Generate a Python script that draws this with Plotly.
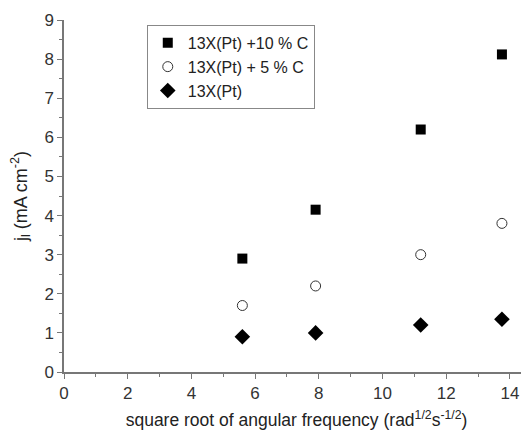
import plotly.graph_objects as go

x_vals = [5.6, 7.9, 11.2, 13.75]
c10_vals = [2.9, 4.15, 6.2, 8.12]
c5_vals = [1.7, 2.2, 3.0, 3.8]
pt_vals = [0.9, 1.0, 1.2, 1.35]
names = ["13X(Pt) +10 % C", "13X(Pt) + 5 % C", "13X(Pt)"]

FONT = "Liberation Sans, Arial"

fig = go.Figure()
fig.add_trace(go.Scatter(x=x_vals, y=c10_vals, mode="markers", name=names[0],
                         marker=dict(symbol="square", size=10, color="black")))
fig.add_trace(go.Scatter(x=x_vals, y=c5_vals, mode="markers", name=names[1],
                         marker=dict(symbol="circle-open", size=10, color="#333", line=dict(width=1))))
fig.add_trace(go.Scatter(x=x_vals, y=pt_vals, mode="markers", name=names[2],
                         marker=dict(symbol="diamond", size=12, color="black")))

axis_common = dict(showline=True, linecolor="#777", linewidth=1.5, ticks="outside",
                   tickcolor="#777", ticklen=5, showgrid=False, zeroline=False, automargin=False,
                   tickfont=dict(family=FONT, size=17, color="#333"))
fig.update_layout(
    width=521, height=428,
    margin=dict(l=56, r=0, t=12, b=64),
    plot_bgcolor="white", paper_bgcolor="white",
    xaxis=dict(range=[0, 14.6], dtick=2, minor=dict(dtick=1, ticks="outside", ticklen=3, tickcolor="#777"),
               title=dict(text="square root of angular frequency (rad<sup>1/2</sup>s<sup>-1/2</sup>)",
                          font=dict(family=FONT, size=17.5, color="#222"), standoff=12),
               **axis_common),
    yaxis=dict(range=[0, 9], dtick=1, minor=dict(dtick=0.5, ticks="outside", ticklen=3, tickcolor="#777"),
               title=dict(text="j<sub>l</sub> (mA cm<sup>-2</sup>)",
                          font=dict(family=FONT, size=18, color="#222"), standoff=24),
               **axis_common),
    legend=dict(x=0.178, y=0.986, xanchor="left", yanchor="top", bordercolor="#888", borderwidth=1,
                bgcolor="white", font=dict(family=FONT, size=16, color="#222"),
                tracegroupgap=0, entrywidth=150, entrywidthmode="pixels"),
    showlegend=True,
)
fig.write_html("out.html")
